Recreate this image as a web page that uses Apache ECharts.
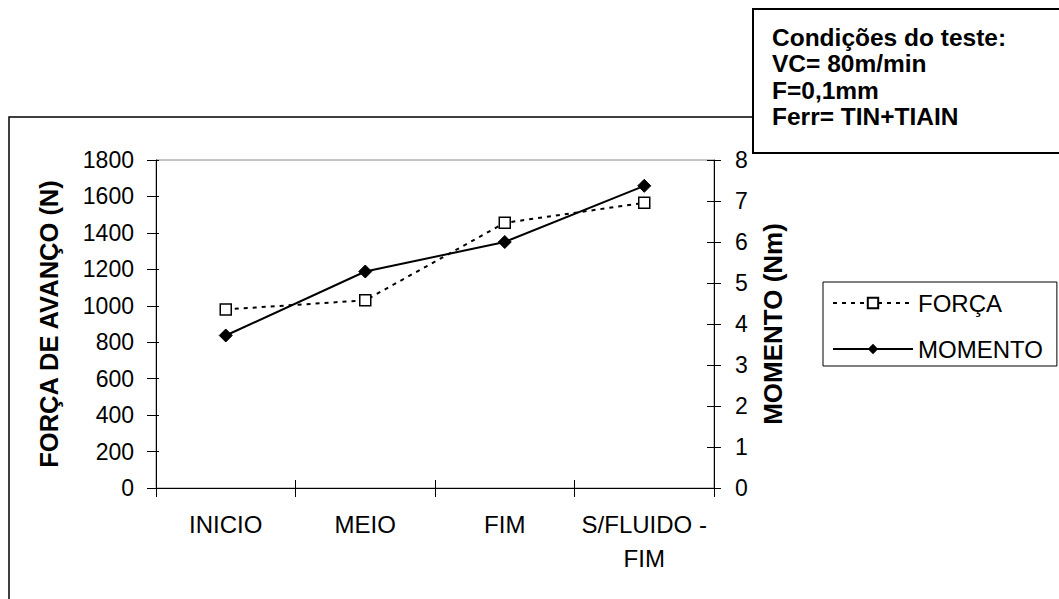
<!DOCTYPE html>
<html>
<head>
<meta charset="utf-8">
<script src="https://cdn.jsdelivr.net/npm/echarts@6/dist/echarts.min.js"></script>
<style>
html,body{margin:0;padding:0;background:#fff;}
#chart{width:1059px;height:599px;}
</style>
</head>
<body>
<div id="chart"></div>
<script>
var categories = ['INICIO', 'MEIO', 'FIM', 'S/FLUIDO -\nFIM'];
var forca = [980, 1030, 1455, 1565];
var momento = [3.72, 5.28, 6.0, 7.37];
var leftTicks = {min: 0, max: 1800, interval: 200};
var rightTicks = {min: 0, max: 8, interval: 1};
var boxText = 'Condições do teste:\nVC= 80m/min\nF=0,1mm\nFerr= TIN+TIAIN';

var FONT = "'Liberation Sans', Arial, sans-serif";
var chart = echarts.init(document.getElementById('chart'), null, {renderer: 'svg'});
var plain = function (v) { return String(v); };

var option = {
  backgroundColor: '#fff',
  animation: false,
  textStyle: {fontFamily: FONT, color: '#000'},
  title: {
    text: boxText,
    left: 753, top: 9,
    padding: [15, 400, 23, 19],
    borderColor: '#000', borderWidth: 2,
    backgroundColor: '#fff',
    z: 10,
    textStyle: {fontFamily: FONT, fontSize: 24.5, fontWeight: 'bold', lineHeight: 26.5, color: '#000'}
  },
  graphic: [{
    type: 'rect', z: 0, silent: true,
    shape: {x: 9, y: 117, width: 1200, height: 700},
    style: {fill: 'none', stroke: '#000', lineWidth: 1.5}
  }],
  legend: {
    orient: 'vertical',
    left: 823, top: 282,
    padding: [9, 14, 5, 9],
    itemWidth: 80, itemHeight: 13, itemGap: 22,
    borderColor: '#000', borderWidth: 1,
    backgroundColor: '#fff',
    selectedMode: false,
    data: ['FORÇA', 'MOMENTO'],
    textStyle: {fontFamily: FONT, fontSize: 24, color: '#000'}
  },
  grid: {
    left: 156, right: 345, top: 160, bottom: 111,
    show: true, borderColor: '#888', borderWidth: 1, backgroundColor: 'transparent'
  },
  xAxis: [{
    type: 'category', data: categories, boundaryGap: true, position: 'bottom',
    axisLine: {show: true, lineStyle: {color: '#000', width: 1}},
    axisTick: {show: true, length: 9, lineStyle: {color: '#000'}},
    axisLabel: {fontFamily: FONT, fontSize: 24, color: '#000', margin: 19, lineHeight: 34, interval: 0},
    splitLine: {show: false}
  }, {
    type: 'category', data: categories, boundaryGap: true, position: 'bottom',
    axisLine: {show: false},
    axisTick: {show: true, inside: true, length: 8, lineStyle: {color: '#000'}},
    axisLabel: {show: false},
    splitLine: {show: false}
  }],
  yAxis: [{
    type: 'value', position: 'left',
    min: leftTicks.min, max: leftTicks.max, interval: leftTicks.interval,
    name: 'FORÇA DE AVANÇO (N)', nameLocation: 'middle', nameGap: 94,
    nameTextStyle: {fontFamily: FONT, fontSize: 25.5, fontWeight: 'bold', color: '#000'},
    axisLine: {show: true, lineStyle: {color: '#000', width: 1}},
    axisTick: {show: true, length: 9, lineStyle: {color: '#000'}},
    axisLabel: {fontFamily: FONT, fontSize: 23, color: '#000', margin: 22, formatter: plain},
    splitLine: {show: false}
  }, {
    type: 'value', position: 'right',
    min: rightTicks.min, max: rightTicks.max, interval: rightTicks.interval,
    name: 'MOMENTO (Nm)', nameLocation: 'middle', nameGap: 46,
    nameTextStyle: {fontFamily: FONT, fontSize: 26, fontWeight: 'bold', color: '#000'},
    axisLine: {show: true, lineStyle: {color: '#000', width: 1}},
    axisTick: {show: true, length: 7, lineStyle: {color: '#000'}},
    axisLabel: {fontFamily: FONT, fontSize: 23, color: '#000', margin: 21, formatter: plain},
    splitLine: {show: false}
  }, {
    type: 'value', position: 'right',
    min: rightTicks.min, max: rightTicks.max, interval: rightTicks.interval,
    axisLine: {show: false},
    axisTick: {show: true, inside: true, length: 7, lineStyle: {color: '#000'}},
    axisLabel: {show: false},
    splitLine: {show: false}
  }, {
    type: 'value', position: 'left',
    min: leftTicks.min, max: leftTicks.max, interval: leftTicks.interval,
    axisLine: {show: false},
    axisTick: {show: true, inside: true, length: 3, lineStyle: {color: '#000'}},
    axisLabel: {show: false},
    splitLine: {show: false}
  }],
  series: [{
    name: 'FORÇA', type: 'line', xAxisIndex: 0, yAxisIndex: 0,
    data: forca,
    symbol: 'rect', symbolSize: 11,
    itemStyle: {color: '#fff', borderColor: '#000', borderWidth: 1.5},
    lineStyle: {color: '#000', width: 2, type: [4, 5]},
    z: 3
  }, {
    name: 'MOMENTO', type: 'line', xAxisIndex: 0, yAxisIndex: 1,
    data: momento,
    symbol: 'diamond', symbolSize: 13,
    itemStyle: {color: '#000', borderColor: '#000'},
    lineStyle: {color: '#000', width: 2, type: 'solid'},
    z: 2
  }]
};
chart.setOption(option);
</script>
</body>
</html>
